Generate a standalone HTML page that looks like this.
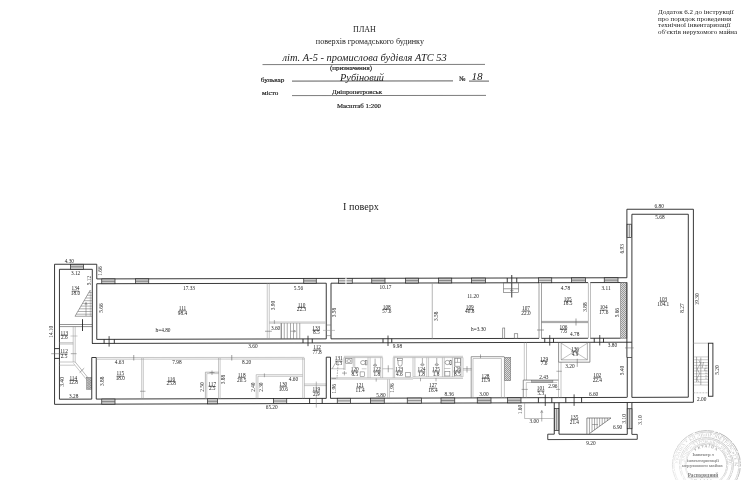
<!DOCTYPE html>
<html><head><meta charset="utf-8"><title>План поверхів</title>
<style>
html,body{margin:0;padding:0;background:#fff;}
body{width:751px;height:480px;overflow:hidden;font-family:"Liberation Serif",serif;}
svg{display:block;font-family:"Liberation Serif",serif;filter:grayscale(1) blur(0.25px);}
</style></head><body>
<svg width="751" height="480" viewBox="0 0 751 480">
<rect width="751" height="480" fill="#ffffff"/>
<g id="header">
<text x="364.50" y="31.80" text-anchor="middle" font-size="8" fill="#222" >ПЛАН</text>
<text x="369.90" y="43.80" text-anchor="middle" font-size="8" fill="#222"  textLength="108.2" lengthAdjust="spacingAndGlyphs">поверхів громадського будинку</text>
<text x="364.60" y="60.60" text-anchor="middle" font-size="11.2" fill="#222" font-style="italic" textLength="164.2" lengthAdjust="spacingAndGlyphs">літ. А-5 - промислова будівля АТС 53</text>
<line x1="262.50" y1="64.60" x2="485.00" y2="64.40" stroke="#444" stroke-width="0.7"/>
<text x="351.00" y="69.70" text-anchor="middle" font-size="6.5" fill="#222" stroke="#222" stroke-width="0.18" textLength="42" lengthAdjust="spacingAndGlyphs">(призначення)</text>
<text x="260.80" y="82.00" text-anchor="start" font-size="6.8" fill="#222" stroke="#222" stroke-width="0.18" textLength="23.6" lengthAdjust="spacingAndGlyphs">бульвар</text>
<text x="362.00" y="80.50" text-anchor="middle" font-size="11.2" fill="#222" font-style="italic" textLength="44" lengthAdjust="spacingAndGlyphs">Рубіновий</text>
<line x1="292.00" y1="81.10" x2="453.00" y2="80.90" stroke="#333" stroke-width="0.8"/>
<text x="459.30" y="81.30" text-anchor="start" font-size="6.6" fill="#222" stroke="#222" stroke-width="0.18">№</text>
<text x="477.00" y="80.00" text-anchor="middle" font-size="11.2" fill="#222" font-style="italic">18</text>
<line x1="469.00" y1="81.10" x2="489.00" y2="81.10" stroke="#333" stroke-width="0.8"/>
<text x="262.00" y="95.00" text-anchor="start" font-size="6.6" fill="#222" stroke="#222" stroke-width="0.18" textLength="16.2" lengthAdjust="spacingAndGlyphs">місто</text>
<text x="357.00" y="93.80" text-anchor="middle" font-size="6.9" fill="#222" stroke="#222" stroke-width="0.18" textLength="50" lengthAdjust="spacingAndGlyphs">Дніпропетровськ</text>
<line x1="292.00" y1="95.60" x2="486.00" y2="95.40" stroke="#444" stroke-width="0.7"/>
<text x="359.00" y="107.60" text-anchor="middle" font-size="6.7" fill="#222" stroke="#222" stroke-width="0.18" textLength="44" lengthAdjust="spacingAndGlyphs">Масштаб 1:200</text>
<text x="361.00" y="209.50" text-anchor="middle" font-size="10" fill="#222"  textLength="35.8" lengthAdjust="spacingAndGlyphs">I поверх</text>
<text x="658.10" y="13.60" text-anchor="start" font-size="6.9" fill="#222"  textLength="75.5" lengthAdjust="spacingAndGlyphs">Додаток 6.2 до інструкції</text>
<text x="658.10" y="20.53" text-anchor="start" font-size="6.9" fill="#222"  textLength="73.2" lengthAdjust="spacingAndGlyphs">про порядок проведення</text>
<text x="658.10" y="27.46" text-anchor="start" font-size="6.9" fill="#222"  textLength="72.4" lengthAdjust="spacingAndGlyphs">технічної інвентаризації</text>
<text x="658.10" y="34.39" text-anchor="start" font-size="6.9" fill="#222"  textLength="79" lengthAdjust="spacingAndGlyphs">об'єктів нерухомого майна</text>
</g>
<g id="plan" stroke-linecap="butt">
<line x1="54.55" y1="264.25" x2="54.55" y2="404.33" stroke="#232323" stroke-width="0.9"/>
<line x1="54.55" y1="264.25" x2="96.75" y2="264.25" stroke="#232323" stroke-width="0.9"/>
<line x1="96.75" y1="264.25" x2="96.75" y2="278.93" stroke="#232323" stroke-width="0.9"/>
<line x1="59.45" y1="269.30" x2="59.45" y2="399.21" stroke="#232323" stroke-width="0.9"/>
<line x1="59.45" y1="269.30" x2="92.30" y2="269.30" stroke="#232323" stroke-width="0.9"/>
<line x1="92.30" y1="269.30" x2="92.30" y2="343.44" stroke="#232323" stroke-width="0.9"/>
<rect x="70.40" y="264.30" width="13.10" height="5.00" fill="#cbcbcb" stroke="#232323" stroke-width="0.7"/>
<line x1="70.40" y1="266.80" x2="83.50" y2="266.80" stroke="#555" stroke-width="0.6"/>
<line x1="59.45" y1="324.50" x2="92.00" y2="324.50" stroke="#3a3a3a" stroke-width="0.55"/>
<line x1="59.45" y1="326.60" x2="92.00" y2="326.60" stroke="#3a3a3a" stroke-width="0.55"/>
<line x1="82.50" y1="319.20" x2="82.50" y2="331.00" stroke="#232323" stroke-width="0.9"/>
<line x1="54.55" y1="348.60" x2="59.45" y2="348.60" stroke="#232323" stroke-width="0.9"/>
<line x1="54.55" y1="358.40" x2="59.45" y2="358.40" stroke="#232323" stroke-width="0.9"/>
<line x1="51.20" y1="353.70" x2="60.70" y2="353.70" stroke="#636363" stroke-width="0.55"/>
<line x1="70.80" y1="353.70" x2="76.60" y2="353.70" stroke="#636363" stroke-width="0.55"/>
<line x1="70.50" y1="336.00" x2="77.50" y2="336.00" stroke="#959595" stroke-width="0.5"/>
<line x1="73.20" y1="326.00" x2="73.20" y2="362.00" stroke="#959595" stroke-width="0.52"/>
<line x1="75.20" y1="326.00" x2="75.20" y2="362.00" stroke="#959595" stroke-width="0.52"/>
<line x1="59.45" y1="342.70" x2="73.20" y2="342.70" stroke="#959595" stroke-width="0.55"/>
<line x1="59.45" y1="344.00" x2="73.20" y2="344.00" stroke="#959595" stroke-width="0.55"/>
<line x1="59.45" y1="362.00" x2="75.20" y2="362.00" stroke="#959595" stroke-width="0.52"/>
<line x1="59.45" y1="365.20" x2="74.50" y2="365.20" stroke="#959595" stroke-width="0.52"/>
<line x1="75.20" y1="362.00" x2="88.80" y2="378.75" stroke="#959595" stroke-width="0.65"/>
<line x1="73.50" y1="363.40" x2="87.20" y2="380.30" stroke="#959595" stroke-width="0.52"/>
<line x1="79.60" y1="372.60" x2="84.20" y2="368.20" stroke="#636363" stroke-width="0.55"/>
<rect x="86.70" y="377.70" width="4.50" height="11.50" fill="#f2f2f2" stroke="#666" stroke-width="0.5"/>
<clipPath id="c26"><rect x="86.7" y="377.7" width="4.5" height="11.5"/></clipPath><g clip-path="url(#c26)">
<line x1="86.70" y1="373.20" x2="91.20" y2="377.70" stroke="#555" stroke-width="0.42"/>
<line x1="86.70" y1="377.70" x2="91.20" y2="373.20" stroke="#555" stroke-width="0.42"/>
<line x1="86.70" y1="374.90" x2="91.20" y2="379.40" stroke="#555" stroke-width="0.42"/>
<line x1="86.70" y1="379.40" x2="91.20" y2="374.90" stroke="#555" stroke-width="0.42"/>
<line x1="86.70" y1="376.60" x2="91.20" y2="381.10" stroke="#555" stroke-width="0.42"/>
<line x1="86.70" y1="381.10" x2="91.20" y2="376.60" stroke="#555" stroke-width="0.42"/>
<line x1="86.70" y1="378.30" x2="91.20" y2="382.80" stroke="#555" stroke-width="0.42"/>
<line x1="86.70" y1="382.80" x2="91.20" y2="378.30" stroke="#555" stroke-width="0.42"/>
<line x1="86.70" y1="380.00" x2="91.20" y2="384.50" stroke="#555" stroke-width="0.42"/>
<line x1="86.70" y1="384.50" x2="91.20" y2="380.00" stroke="#555" stroke-width="0.42"/>
<line x1="86.70" y1="381.70" x2="91.20" y2="386.20" stroke="#555" stroke-width="0.42"/>
<line x1="86.70" y1="386.20" x2="91.20" y2="381.70" stroke="#555" stroke-width="0.42"/>
<line x1="86.70" y1="383.40" x2="91.20" y2="387.90" stroke="#555" stroke-width="0.42"/>
<line x1="86.70" y1="387.90" x2="91.20" y2="383.40" stroke="#555" stroke-width="0.42"/>
<line x1="86.70" y1="385.10" x2="91.20" y2="389.60" stroke="#555" stroke-width="0.42"/>
<line x1="86.70" y1="389.60" x2="91.20" y2="385.10" stroke="#555" stroke-width="0.42"/>
<line x1="86.70" y1="386.80" x2="91.20" y2="391.30" stroke="#555" stroke-width="0.42"/>
<line x1="86.70" y1="391.30" x2="91.20" y2="386.80" stroke="#555" stroke-width="0.42"/>
<line x1="86.70" y1="388.50" x2="91.20" y2="393.00" stroke="#555" stroke-width="0.42"/>
<line x1="86.70" y1="393.00" x2="91.20" y2="388.50" stroke="#555" stroke-width="0.42"/>
</g>
<polyline points="90.30,290.00 75.00,316.25 92.30,316.25" fill="none" stroke="#636363" stroke-width="0.6"/>
<line x1="90.30" y1="290.00" x2="90.30" y2="316.25" stroke="#959595" stroke-width="0.5"/>
<line x1="88.78" y1="292.60" x2="91.80" y2="292.60" stroke="#636363" stroke-width="0.5"/>
<line x1="87.21" y1="295.30" x2="91.80" y2="295.30" stroke="#636363" stroke-width="0.5"/>
<line x1="85.64" y1="298.00" x2="91.80" y2="298.00" stroke="#636363" stroke-width="0.5"/>
<line x1="84.06" y1="300.70" x2="91.80" y2="300.70" stroke="#636363" stroke-width="0.5"/>
<line x1="82.49" y1="303.40" x2="91.80" y2="303.40" stroke="#636363" stroke-width="0.5"/>
<line x1="80.92" y1="306.10" x2="91.80" y2="306.10" stroke="#636363" stroke-width="0.5"/>
<line x1="79.34" y1="308.80" x2="91.80" y2="308.80" stroke="#636363" stroke-width="0.5"/>
<line x1="77.77" y1="311.50" x2="91.80" y2="311.50" stroke="#636363" stroke-width="0.5"/>
<line x1="76.19" y1="314.20" x2="91.80" y2="314.20" stroke="#636363" stroke-width="0.5"/>
<line x1="86.00" y1="302.50" x2="86.00" y2="316.00" stroke="#636363" stroke-width="0.5"/>
<line x1="85.00" y1="305.00" x2="86.00" y2="302.50" stroke="#636363" stroke-width="0.45"/>
<line x1="87.00" y1="305.00" x2="86.00" y2="302.50" stroke="#636363" stroke-width="0.45"/>
<line x1="96.75" y1="278.93" x2="626.90" y2="277.73" stroke="#232323" stroke-width="0.9"/>
<line x1="96.75" y1="283.73" x2="326.25" y2="283.21" stroke="#232323" stroke-width="0.9"/>
<line x1="331.00" y1="283.20" x2="539.00" y2="282.73" stroke="#232323" stroke-width="0.9"/>
<line x1="541.50" y1="282.72" x2="588.00" y2="282.62" stroke="#232323" stroke-width="0.9"/>
<line x1="590.25" y1="282.61" x2="626.90" y2="282.53" stroke="#232323" stroke-width="0.9"/>
<rect x="101.75" y="278.91" width="13.25" height="4.80" fill="#cbcbcb" stroke="#232323" stroke-width="0.7"/>
<line x1="101.75" y1="281.31" x2="115.00" y2="281.31" stroke="#555" stroke-width="0.6"/>
<rect x="135.50" y="278.83" width="13.25" height="4.80" fill="#cbcbcb" stroke="#232323" stroke-width="0.7"/>
<line x1="135.50" y1="281.23" x2="148.75" y2="281.23" stroke="#555" stroke-width="0.6"/>
<rect x="303.75" y="278.45" width="12.50" height="4.80" fill="#cbcbcb" stroke="#232323" stroke-width="0.7"/>
<line x1="303.75" y1="280.85" x2="316.25" y2="280.85" stroke="#555" stroke-width="0.6"/>
<rect x="338.50" y="278.37" width="13.75" height="4.80" fill="#e2e2e2" stroke="#232323" stroke-width="0.7"/>
<line x1="338.50" y1="280.77" x2="352.25" y2="280.77" stroke="#555" stroke-width="0.6"/>
<rect x="371.75" y="278.29" width="13.25" height="4.80" fill="#cbcbcb" stroke="#232323" stroke-width="0.7"/>
<line x1="371.75" y1="280.69" x2="385.00" y2="280.69" stroke="#555" stroke-width="0.6"/>
<rect x="405.50" y="278.22" width="13.00" height="4.80" fill="#cbcbcb" stroke="#232323" stroke-width="0.7"/>
<line x1="405.50" y1="280.62" x2="418.50" y2="280.62" stroke="#555" stroke-width="0.6"/>
<rect x="438.50" y="278.14" width="13.25" height="4.80" fill="#cbcbcb" stroke="#232323" stroke-width="0.7"/>
<line x1="438.50" y1="280.54" x2="451.75" y2="280.54" stroke="#555" stroke-width="0.6"/>
<rect x="471.50" y="278.07" width="14.00" height="4.80" fill="#cbcbcb" stroke="#232323" stroke-width="0.7"/>
<line x1="471.50" y1="280.47" x2="485.50" y2="280.47" stroke="#555" stroke-width="0.6"/>
<rect x="538.50" y="277.91" width="13.25" height="4.80" fill="#dcdcdc" stroke="#232323" stroke-width="0.7"/>
<line x1="538.50" y1="280.31" x2="551.75" y2="280.31" stroke="#555" stroke-width="0.6"/>
<rect x="571.50" y="277.84" width="14.00" height="4.80" fill="#cbcbcb" stroke="#232323" stroke-width="0.7"/>
<line x1="571.50" y1="280.24" x2="585.50" y2="280.24" stroke="#555" stroke-width="0.6"/>
<rect x="604.25" y="277.76" width="13.75" height="4.80" fill="#cbcbcb" stroke="#232323" stroke-width="0.7"/>
<line x1="604.25" y1="280.16" x2="618.00" y2="280.16" stroke="#555" stroke-width="0.6"/>
<rect x="345.4" y="277.6" width="1.1" height="6.6" fill="#fff"/>
<line x1="507.25" y1="278.00" x2="507.25" y2="282.80" stroke="#232323" stroke-width="0.9"/>
<line x1="516.75" y1="277.98" x2="516.75" y2="282.78" stroke="#232323" stroke-width="0.9"/>
<line x1="511.75" y1="275.00" x2="511.75" y2="297.50" stroke="#232323" stroke-width="0.9"/>
<rect x="503.50" y="282.79" width="15.00" height="9.71" fill="none" stroke="#636363" stroke-width="0.6"/>
<line x1="503.50" y1="288.75" x2="518.50" y2="288.75" stroke="#636363" stroke-width="0.6"/>
<line x1="510.00" y1="290.60" x2="513.50" y2="290.60" stroke="#636363" stroke-width="0.5"/>
<line x1="96.75" y1="283.73" x2="96.75" y2="339.38" stroke="#232323" stroke-width="0.9"/>
<line x1="96.75" y1="339.38" x2="326.25" y2="338.86" stroke="#232323" stroke-width="0.9"/>
<line x1="267.25" y1="283.35" x2="267.25" y2="339.00" stroke="#959595" stroke-width="0.52"/>
<line x1="269.25" y1="283.34" x2="269.25" y2="338.99" stroke="#959595" stroke-width="0.52"/>
<line x1="326.25" y1="283.21" x2="326.25" y2="338.86" stroke="#232323" stroke-width="0.9"/>
<line x1="331.00" y1="283.20" x2="331.00" y2="338.85" stroke="#232323" stroke-width="0.9"/>
<line x1="269.25" y1="322.00" x2="325.50" y2="322.00" stroke="#959595" stroke-width="0.52"/>
<line x1="269.25" y1="323.20" x2="325.50" y2="323.20" stroke="#959595" stroke-width="0.52"/>
<line x1="281.25" y1="323.20" x2="281.25" y2="338.96" stroke="#636363" stroke-width="0.55"/>
<line x1="284.25" y1="323.20" x2="284.25" y2="338.96" stroke="#636363" stroke-width="0.55"/>
<line x1="287.25" y1="323.20" x2="287.25" y2="338.95" stroke="#636363" stroke-width="0.55"/>
<line x1="290.50" y1="323.20" x2="290.50" y2="338.94" stroke="#636363" stroke-width="0.55"/>
<line x1="293.50" y1="323.20" x2="293.50" y2="338.94" stroke="#636363" stroke-width="0.55"/>
<line x1="296.75" y1="323.20" x2="296.75" y2="338.93" stroke="#636363" stroke-width="0.55"/>
<line x1="299.75" y1="323.20" x2="299.75" y2="338.92" stroke="#636363" stroke-width="0.55"/>
<line x1="281.25" y1="323.20" x2="281.25" y2="338.96" stroke="#636363" stroke-width="0.6"/>
<line x1="290.50" y1="331.20" x2="295.50" y2="331.20" stroke="#636363" stroke-width="0.5"/>
<line x1="294.00" y1="330.20" x2="295.50" y2="331.20" stroke="#636363" stroke-width="0.5"/>
<line x1="294.00" y1="332.20" x2="295.50" y2="331.20" stroke="#636363" stroke-width="0.5"/>
<line x1="265.00" y1="331.25" x2="271.90" y2="331.25" stroke="#636363" stroke-width="0.55"/>
<line x1="274.40" y1="320.00" x2="274.40" y2="323.80" stroke="#636363" stroke-width="0.5"/>
<line x1="323.00" y1="330.40" x2="335.00" y2="330.40" stroke="#959595" stroke-width="0.52"/>
<line x1="326.25" y1="325.00" x2="331.00" y2="325.00" stroke="#636363" stroke-width="0.5"/>
<line x1="326.25" y1="335.60" x2="331.00" y2="335.60" stroke="#636363" stroke-width="0.5"/>
<line x1="331.00" y1="338.85" x2="539.00" y2="338.38" stroke="#232323" stroke-width="0.9"/>
<line x1="432.25" y1="282.97" x2="432.25" y2="338.62" stroke="#959595" stroke-width="0.7"/>
<line x1="539.00" y1="282.73" x2="539.00" y2="338.38" stroke="#636363" stroke-width="0.6"/>
<line x1="541.50" y1="282.72" x2="541.50" y2="338.37" stroke="#636363" stroke-width="0.6"/>
<rect x="502.75" y="328.00" width="2.00" height="10.46" fill="none" stroke="#636363" stroke-width="0.6"/>
<rect x="514.25" y="333.75" width="3.50" height="4.68" fill="none" stroke="#636363" stroke-width="0.6"/>
<line x1="537.00" y1="330.00" x2="544.00" y2="330.00" stroke="#636363" stroke-width="0.6"/>
<line x1="541.50" y1="338.37" x2="588.00" y2="338.27" stroke="#232323" stroke-width="0.9"/>
<line x1="590.25" y1="338.26" x2="620.50" y2="338.19" stroke="#232323" stroke-width="0.9"/>
<line x1="541.50" y1="321.40" x2="588.00" y2="321.40" stroke="#636363" stroke-width="0.6"/>
<line x1="541.50" y1="322.60" x2="588.00" y2="322.60" stroke="#636363" stroke-width="0.6"/>
<line x1="576.00" y1="318.50" x2="576.00" y2="325.50" stroke="#636363" stroke-width="0.6"/>
<line x1="588.40" y1="282.62" x2="588.40" y2="338.27" stroke="#8a8a8a" stroke-width="0.55"/>
<line x1="590.50" y1="282.61" x2="590.50" y2="338.26" stroke="#8a8a8a" stroke-width="0.55"/>
<rect x="620.50" y="282.54" width="6.40" height="55.65" fill="#f2f2f2" stroke="#666" stroke-width="0.5"/>
<clipPath id="c135"><rect x="620.5" y="282.53704000000005" width="6.399999999999977" height="55.64999999999998"/></clipPath><g clip-path="url(#c135)">
<line x1="620.50" y1="276.14" x2="626.90" y2="282.54" stroke="#555" stroke-width="0.42"/>
<line x1="620.50" y1="282.54" x2="626.90" y2="276.14" stroke="#555" stroke-width="0.42"/>
<line x1="620.50" y1="278.14" x2="626.90" y2="284.54" stroke="#555" stroke-width="0.42"/>
<line x1="620.50" y1="284.54" x2="626.90" y2="278.14" stroke="#555" stroke-width="0.42"/>
<line x1="620.50" y1="280.14" x2="626.90" y2="286.54" stroke="#555" stroke-width="0.42"/>
<line x1="620.50" y1="286.54" x2="626.90" y2="280.14" stroke="#555" stroke-width="0.42"/>
<line x1="620.50" y1="282.14" x2="626.90" y2="288.54" stroke="#555" stroke-width="0.42"/>
<line x1="620.50" y1="288.54" x2="626.90" y2="282.14" stroke="#555" stroke-width="0.42"/>
<line x1="620.50" y1="284.14" x2="626.90" y2="290.54" stroke="#555" stroke-width="0.42"/>
<line x1="620.50" y1="290.54" x2="626.90" y2="284.14" stroke="#555" stroke-width="0.42"/>
<line x1="620.50" y1="286.14" x2="626.90" y2="292.54" stroke="#555" stroke-width="0.42"/>
<line x1="620.50" y1="292.54" x2="626.90" y2="286.14" stroke="#555" stroke-width="0.42"/>
<line x1="620.50" y1="288.14" x2="626.90" y2="294.54" stroke="#555" stroke-width="0.42"/>
<line x1="620.50" y1="294.54" x2="626.90" y2="288.14" stroke="#555" stroke-width="0.42"/>
<line x1="620.50" y1="290.14" x2="626.90" y2="296.54" stroke="#555" stroke-width="0.42"/>
<line x1="620.50" y1="296.54" x2="626.90" y2="290.14" stroke="#555" stroke-width="0.42"/>
<line x1="620.50" y1="292.14" x2="626.90" y2="298.54" stroke="#555" stroke-width="0.42"/>
<line x1="620.50" y1="298.54" x2="626.90" y2="292.14" stroke="#555" stroke-width="0.42"/>
<line x1="620.50" y1="294.14" x2="626.90" y2="300.54" stroke="#555" stroke-width="0.42"/>
<line x1="620.50" y1="300.54" x2="626.90" y2="294.14" stroke="#555" stroke-width="0.42"/>
<line x1="620.50" y1="296.14" x2="626.90" y2="302.54" stroke="#555" stroke-width="0.42"/>
<line x1="620.50" y1="302.54" x2="626.90" y2="296.14" stroke="#555" stroke-width="0.42"/>
<line x1="620.50" y1="298.14" x2="626.90" y2="304.54" stroke="#555" stroke-width="0.42"/>
<line x1="620.50" y1="304.54" x2="626.90" y2="298.14" stroke="#555" stroke-width="0.42"/>
<line x1="620.50" y1="300.14" x2="626.90" y2="306.54" stroke="#555" stroke-width="0.42"/>
<line x1="620.50" y1="306.54" x2="626.90" y2="300.14" stroke="#555" stroke-width="0.42"/>
<line x1="620.50" y1="302.14" x2="626.90" y2="308.54" stroke="#555" stroke-width="0.42"/>
<line x1="620.50" y1="308.54" x2="626.90" y2="302.14" stroke="#555" stroke-width="0.42"/>
<line x1="620.50" y1="304.14" x2="626.90" y2="310.54" stroke="#555" stroke-width="0.42"/>
<line x1="620.50" y1="310.54" x2="626.90" y2="304.14" stroke="#555" stroke-width="0.42"/>
<line x1="620.50" y1="306.14" x2="626.90" y2="312.54" stroke="#555" stroke-width="0.42"/>
<line x1="620.50" y1="312.54" x2="626.90" y2="306.14" stroke="#555" stroke-width="0.42"/>
<line x1="620.50" y1="308.14" x2="626.90" y2="314.54" stroke="#555" stroke-width="0.42"/>
<line x1="620.50" y1="314.54" x2="626.90" y2="308.14" stroke="#555" stroke-width="0.42"/>
<line x1="620.50" y1="310.14" x2="626.90" y2="316.54" stroke="#555" stroke-width="0.42"/>
<line x1="620.50" y1="316.54" x2="626.90" y2="310.14" stroke="#555" stroke-width="0.42"/>
<line x1="620.50" y1="312.14" x2="626.90" y2="318.54" stroke="#555" stroke-width="0.42"/>
<line x1="620.50" y1="318.54" x2="626.90" y2="312.14" stroke="#555" stroke-width="0.42"/>
<line x1="620.50" y1="314.14" x2="626.90" y2="320.54" stroke="#555" stroke-width="0.42"/>
<line x1="620.50" y1="320.54" x2="626.90" y2="314.14" stroke="#555" stroke-width="0.42"/>
<line x1="620.50" y1="316.14" x2="626.90" y2="322.54" stroke="#555" stroke-width="0.42"/>
<line x1="620.50" y1="322.54" x2="626.90" y2="316.14" stroke="#555" stroke-width="0.42"/>
<line x1="620.50" y1="318.14" x2="626.90" y2="324.54" stroke="#555" stroke-width="0.42"/>
<line x1="620.50" y1="324.54" x2="626.90" y2="318.14" stroke="#555" stroke-width="0.42"/>
<line x1="620.50" y1="320.14" x2="626.90" y2="326.54" stroke="#555" stroke-width="0.42"/>
<line x1="620.50" y1="326.54" x2="626.90" y2="320.14" stroke="#555" stroke-width="0.42"/>
<line x1="620.50" y1="322.14" x2="626.90" y2="328.54" stroke="#555" stroke-width="0.42"/>
<line x1="620.50" y1="328.54" x2="626.90" y2="322.14" stroke="#555" stroke-width="0.42"/>
<line x1="620.50" y1="324.14" x2="626.90" y2="330.54" stroke="#555" stroke-width="0.42"/>
<line x1="620.50" y1="330.54" x2="626.90" y2="324.14" stroke="#555" stroke-width="0.42"/>
<line x1="620.50" y1="326.14" x2="626.90" y2="332.54" stroke="#555" stroke-width="0.42"/>
<line x1="620.50" y1="332.54" x2="626.90" y2="326.14" stroke="#555" stroke-width="0.42"/>
<line x1="620.50" y1="328.14" x2="626.90" y2="334.54" stroke="#555" stroke-width="0.42"/>
<line x1="620.50" y1="334.54" x2="626.90" y2="328.14" stroke="#555" stroke-width="0.42"/>
<line x1="620.50" y1="330.14" x2="626.90" y2="336.54" stroke="#555" stroke-width="0.42"/>
<line x1="620.50" y1="336.54" x2="626.90" y2="330.14" stroke="#555" stroke-width="0.42"/>
<line x1="620.50" y1="332.14" x2="626.90" y2="338.54" stroke="#555" stroke-width="0.42"/>
<line x1="620.50" y1="338.54" x2="626.90" y2="332.14" stroke="#555" stroke-width="0.42"/>
<line x1="620.50" y1="334.14" x2="626.90" y2="340.54" stroke="#555" stroke-width="0.42"/>
<line x1="620.50" y1="340.54" x2="626.90" y2="334.14" stroke="#555" stroke-width="0.42"/>
<line x1="620.50" y1="336.14" x2="626.90" y2="342.54" stroke="#555" stroke-width="0.42"/>
<line x1="620.50" y1="342.54" x2="626.90" y2="336.14" stroke="#555" stroke-width="0.42"/>
<line x1="620.50" y1="338.14" x2="626.90" y2="344.54" stroke="#555" stroke-width="0.42"/>
<line x1="620.50" y1="344.54" x2="626.90" y2="338.14" stroke="#555" stroke-width="0.42"/>
</g>
<line x1="92.00" y1="343.44" x2="631.90" y2="342.22" stroke="#232323" stroke-width="0.9"/>
<line x1="104.10" y1="339.36" x2="104.10" y2="343.41" stroke="#232323" stroke-width="0.9"/>
<line x1="114.30" y1="339.34" x2="114.30" y2="343.39" stroke="#232323" stroke-width="0.9"/>
<line x1="109.10" y1="336.15" x2="109.10" y2="346.60" stroke="#232323" stroke-width="0.8"/>
<line x1="303.00" y1="338.91" x2="303.00" y2="342.96" stroke="#232323" stroke-width="0.9"/>
<line x1="312.25" y1="338.89" x2="312.25" y2="342.94" stroke="#232323" stroke-width="0.9"/>
<line x1="308.00" y1="335.70" x2="308.00" y2="346.15" stroke="#232323" stroke-width="0.8"/>
<line x1="383.00" y1="338.73" x2="383.00" y2="342.78" stroke="#232323" stroke-width="0.9"/>
<line x1="391.75" y1="338.71" x2="391.75" y2="342.76" stroke="#232323" stroke-width="0.9"/>
<line x1="388.00" y1="335.52" x2="388.00" y2="345.97" stroke="#232323" stroke-width="0.8"/>
<line x1="544.75" y1="338.36" x2="544.75" y2="342.41" stroke="#232323" stroke-width="0.9"/>
<line x1="553.50" y1="338.34" x2="553.50" y2="342.39" stroke="#232323" stroke-width="0.9"/>
<line x1="549.75" y1="335.15" x2="549.75" y2="345.60" stroke="#232323" stroke-width="0.8"/>
<line x1="594.25" y1="338.25" x2="594.25" y2="342.30" stroke="#232323" stroke-width="0.9"/>
<line x1="603.50" y1="338.23" x2="603.50" y2="342.28" stroke="#232323" stroke-width="0.9"/>
<line x1="599.75" y1="335.04" x2="599.75" y2="345.49" stroke="#232323" stroke-width="0.8"/>
<line x1="54.55" y1="404.33" x2="631.90" y2="402.48" stroke="#232323" stroke-width="0.9"/>
<line x1="59.45" y1="399.21" x2="91.75" y2="399.11" stroke="#232323" stroke-width="0.9"/>
<line x1="96.25" y1="399.09" x2="326.25" y2="398.36" stroke="#232323" stroke-width="0.9"/>
<line x1="330.50" y1="398.34" x2="626.90" y2="397.39" stroke="#232323" stroke-width="0.9"/>
<rect x="101.75" y="399.05" width="13.25" height="5.10" fill="#cbcbcb" stroke="#232323" stroke-width="0.7"/>
<line x1="101.75" y1="401.60" x2="115.00" y2="401.60" stroke="#555" stroke-width="0.6"/>
<rect x="207.50" y="398.72" width="10.00" height="5.10" fill="#cbcbcb" stroke="#232323" stroke-width="0.7"/>
<line x1="207.50" y1="401.27" x2="217.50" y2="401.27" stroke="#555" stroke-width="0.6"/>
<rect x="273.40" y="398.50" width="13.35" height="5.10" fill="#d4d4d4" stroke="#232323" stroke-width="0.7"/>
<line x1="273.40" y1="401.05" x2="286.75" y2="401.05" stroke="#555" stroke-width="0.6"/>
<rect x="337.25" y="398.30" width="13.25" height="5.10" fill="#dedede" stroke="#232323" stroke-width="0.7"/>
<line x1="337.25" y1="400.85" x2="350.50" y2="400.85" stroke="#555" stroke-width="0.6"/>
<rect x="370.50" y="398.19" width="13.75" height="5.10" fill="#cbcbcb" stroke="#232323" stroke-width="0.7"/>
<line x1="370.50" y1="400.74" x2="384.25" y2="400.74" stroke="#555" stroke-width="0.6"/>
<rect x="407.25" y="398.07" width="14.25" height="5.10" fill="#dedede" stroke="#232323" stroke-width="0.7"/>
<line x1="407.25" y1="400.62" x2="421.50" y2="400.62" stroke="#555" stroke-width="0.6"/>
<rect x="441.00" y="397.97" width="13.75" height="5.10" fill="#cbcbcb" stroke="#232323" stroke-width="0.7"/>
<line x1="441.00" y1="400.52" x2="454.75" y2="400.52" stroke="#555" stroke-width="0.6"/>
<rect x="477.25" y="397.85" width="13.75" height="5.10" fill="#cbcbcb" stroke="#232323" stroke-width="0.7"/>
<line x1="477.25" y1="400.40" x2="491.00" y2="400.40" stroke="#555" stroke-width="0.6"/>
<rect x="507.60" y="397.75" width="13.40" height="5.10" fill="#cbcbcb" stroke="#232323" stroke-width="0.7"/>
<line x1="507.60" y1="400.30" x2="521.00" y2="400.30" stroke="#555" stroke-width="0.6"/>
<line x1="309.60" y1="398.41" x2="309.60" y2="403.51" stroke="#232323" stroke-width="0.9"/>
<line x1="322.20" y1="398.37" x2="322.20" y2="403.47" stroke="#232323" stroke-width="0.9"/>
<line x1="316.30" y1="381.60" x2="316.30" y2="407.60" stroke="#777" stroke-width="0.5"/>
<line x1="538.40" y1="397.68" x2="538.40" y2="402.78" stroke="#232323" stroke-width="0.9"/>
<line x1="551.80" y1="397.63" x2="551.80" y2="402.73" stroke="#232323" stroke-width="0.9"/>
<line x1="545.25" y1="394.46" x2="545.25" y2="405.96" stroke="#232323" stroke-width="0.8"/>
<line x1="565.80" y1="397.59" x2="565.80" y2="402.69" stroke="#232323" stroke-width="0.9"/>
<line x1="581.60" y1="397.54" x2="581.60" y2="402.64" stroke="#232323" stroke-width="0.9"/>
<line x1="574.10" y1="394.36" x2="574.10" y2="405.86" stroke="#232323" stroke-width="0.8"/>
<line x1="91.75" y1="357.50" x2="91.75" y2="399.11" stroke="#232323" stroke-width="0.9"/>
<line x1="96.25" y1="357.50" x2="96.25" y2="399.09" stroke="#232323" stroke-width="0.9"/>
<line x1="91.75" y1="357.50" x2="96.25" y2="357.50" stroke="#232323" stroke-width="0.9"/>
<line x1="96.25" y1="357.50" x2="304.30" y2="357.40" stroke="#8e8e8e" stroke-width="0.5"/>
<line x1="96.25" y1="359.20" x2="304.30" y2="359.00" stroke="#8e8e8e" stroke-width="0.5"/>
<line x1="133.75" y1="355.00" x2="133.75" y2="360.50" stroke="#636363" stroke-width="0.6"/>
<line x1="231.75" y1="355.00" x2="231.75" y2="360.50" stroke="#636363" stroke-width="0.6"/>
<line x1="141.70" y1="358.00" x2="141.70" y2="398.95" stroke="#959595" stroke-width="0.52"/>
<line x1="143.30" y1="358.00" x2="143.30" y2="398.94" stroke="#959595" stroke-width="0.52"/>
<line x1="140.00" y1="391.25" x2="145.50" y2="391.25" stroke="#636363" stroke-width="0.5"/>
<line x1="218.50" y1="358.00" x2="218.50" y2="398.70" stroke="#959595" stroke-width="0.52"/>
<line x1="220.10" y1="358.00" x2="220.10" y2="398.70" stroke="#959595" stroke-width="0.52"/>
<polyline points="205.40,398.74 205.40,372.20 219.00,372.20" fill="none" stroke="#8a8a8a" stroke-width="0.6"/>
<polyline points="206.80,398.74 206.80,373.60 219.00,373.60" fill="none" stroke="#959595" stroke-width="0.5"/>
<line x1="209.50" y1="372.50" x2="214.50" y2="372.50" stroke="#636363" stroke-width="0.5"/>
<line x1="212.00" y1="370.50" x2="212.00" y2="375.00" stroke="#636363" stroke-width="0.5"/>
<line x1="302.60" y1="358.00" x2="302.60" y2="398.43" stroke="#a6a6a6" stroke-width="0.5"/>
<line x1="304.30" y1="358.00" x2="304.30" y2="398.43" stroke="#858585" stroke-width="0.5"/>
<polyline points="256.20,398.58 256.20,374.70 302.60,374.70" fill="none" stroke="#8e8e8e" stroke-width="0.5"/>
<polyline points="257.90,398.58 257.90,376.30 302.60,376.30" fill="none" stroke="#8e8e8e" stroke-width="0.5"/>
<line x1="264.40" y1="373.40" x2="264.40" y2="377.20" stroke="#636363" stroke-width="0.5"/>
<line x1="304.30" y1="384.00" x2="326.25" y2="384.00" stroke="#8e8e8e" stroke-width="0.5"/>
<line x1="304.30" y1="385.60" x2="326.25" y2="385.60" stroke="#8e8e8e" stroke-width="0.5"/>
<line x1="326.25" y1="357.20" x2="326.25" y2="398.36" stroke="#232323" stroke-width="0.9"/>
<line x1="330.50" y1="357.20" x2="330.50" y2="398.34" stroke="#232323" stroke-width="0.9"/>
<line x1="326.25" y1="357.20" x2="330.50" y2="357.20" stroke="#232323" stroke-width="0.9"/>
<line x1="343.90" y1="356.30" x2="382.60" y2="356.30" stroke="#959595" stroke-width="0.52"/>
<line x1="343.90" y1="357.60" x2="382.60" y2="357.60" stroke="#959595" stroke-width="0.52"/>
<line x1="393.25" y1="356.30" x2="463.00" y2="356.30" stroke="#959595" stroke-width="0.52"/>
<line x1="393.25" y1="357.60" x2="463.00" y2="357.60" stroke="#959595" stroke-width="0.52"/>
<line x1="330.75" y1="377.80" x2="413.00" y2="377.80" stroke="#959595" stroke-width="0.52"/>
<line x1="330.75" y1="379.10" x2="413.00" y2="379.10" stroke="#959595" stroke-width="0.52"/>
<line x1="343.90" y1="357.60" x2="343.90" y2="370.00" stroke="#959595" stroke-width="0.52"/>
<line x1="345.10" y1="357.60" x2="345.10" y2="370.00" stroke="#959595" stroke-width="0.52"/>
<line x1="331.00" y1="368.75" x2="344.50" y2="368.75" stroke="#959595" stroke-width="0.52"/>
<line x1="338.2" y1="362" x2="337" y2="378.5" stroke="#636363" stroke-width="0.5" stroke-dasharray="1.6 1"/>
<line x1="342.00" y1="373.10" x2="347.00" y2="373.10" stroke="#636363" stroke-width="0.5"/>
<line x1="344.40" y1="371.00" x2="344.40" y2="375.40" stroke="#636363" stroke-width="0.5"/>
<line x1="336.50" y1="361.40" x2="332.00" y2="368.90" stroke="#636363" stroke-width="0.5"/>
<line x1="331.50" y1="378.50" x2="336.00" y2="378.50" stroke="#636363" stroke-width="0.5"/>
<rect x="345.75" y="358.30" width="6.25" height="4.90" fill="none" stroke="#636363" stroke-width="0.55"/>
<ellipse cx="348.88" cy="361.05" rx="2.02" ry="1.45" fill="none" stroke="#636363" stroke-width="0.5"/>
<line x1="353.25" y1="357.60" x2="353.25" y2="366.90" stroke="#959595" stroke-width="0.52"/>
<line x1="354.75" y1="357.60" x2="354.75" y2="366.90" stroke="#959595" stroke-width="0.52"/>
<ellipse cx="363.00" cy="362.60" rx="2.4" ry="2.1" fill="none" stroke="#636363" stroke-width="0.55"/>
<rect x="365.50" y="360.30" width="1.50" height="4.60" fill="none" stroke="#636363" stroke-width="0.5"/>
<rect x="360.10" y="371.90" width="4.40" height="4.35" fill="none" stroke="#636363" stroke-width="0.5"/>
<line x1="361.80" y1="368.80" x2="366.50" y2="368.80" stroke="#959595" stroke-width="0.5"/>
<line x1="368.00" y1="357.60" x2="368.00" y2="377.80" stroke="#959595" stroke-width="0.52"/>
<line x1="370.10" y1="357.60" x2="370.10" y2="377.80" stroke="#959595" stroke-width="0.52"/>
<line x1="375.10" y1="358.60" x2="375.10" y2="363.80" stroke="#636363" stroke-width="0.5"/>
<path d="M373.20,365.30 L375.10,363.80 L377.00,365.30 L375.10,366.50 Z" fill="#bbb" stroke="#636363" stroke-width="0.45"/>
<line x1="380.75" y1="357.60" x2="380.75" y2="377.80" stroke="#959595" stroke-width="0.52"/>
<line x1="382.60" y1="357.60" x2="382.60" y2="377.80" stroke="#959595" stroke-width="0.52"/>
<line x1="376.20" y1="378.40" x2="376.20" y2="381.60" stroke="#636363" stroke-width="0.5"/>
<line x1="382.60" y1="368.75" x2="393.25" y2="368.75" stroke="#959595" stroke-width="0.52"/>
<line x1="388.25" y1="365.30" x2="388.25" y2="372.30" stroke="#636363" stroke-width="0.55"/>
<line x1="393.25" y1="357.60" x2="393.25" y2="377.80" stroke="#959595" stroke-width="0.52"/>
<line x1="394.60" y1="357.60" x2="394.60" y2="377.80" stroke="#959595" stroke-width="0.52"/>
<rect x="397.50" y="358.60" width="5.20" height="1.80" fill="none" stroke="#636363" stroke-width="0.5"/>
<path d="M398.00,360.40 L398.00,363.60 A2.1,2.6 0 0 0 402.20,363.60 L402.20,360.40" fill="none" stroke="#636363" stroke-width="0.55"/>
<rect x="405.75" y="372.25" width="4.45" height="4.65" fill="none" stroke="#636363" stroke-width="0.5"/>
<line x1="387.60" y1="379.40" x2="387.60" y2="398.16" stroke="#959595" stroke-width="0.52"/>
<line x1="389.40" y1="379.40" x2="389.40" y2="398.16" stroke="#959595" stroke-width="0.52"/>
<line x1="413.00" y1="376.90" x2="463.00" y2="376.90" stroke="#959595" stroke-width="0.52"/>
<line x1="413.00" y1="378.40" x2="463.00" y2="378.40" stroke="#959595" stroke-width="0.52"/>
<line x1="413.00" y1="357.60" x2="413.00" y2="376.90" stroke="#959595" stroke-width="0.52"/>
<line x1="414.90" y1="357.60" x2="414.90" y2="376.90" stroke="#959595" stroke-width="0.52"/>
<line x1="426.75" y1="357.60" x2="426.75" y2="376.90" stroke="#959595" stroke-width="0.52"/>
<line x1="428.60" y1="357.60" x2="428.60" y2="376.90" stroke="#959595" stroke-width="0.52"/>
<line x1="442.40" y1="357.60" x2="442.40" y2="376.90" stroke="#959595" stroke-width="0.52"/>
<line x1="444.25" y1="357.60" x2="444.25" y2="376.90" stroke="#959595" stroke-width="0.52"/>
<line x1="452.40" y1="357.60" x2="452.40" y2="376.90" stroke="#959595" stroke-width="0.52"/>
<line x1="454.40" y1="357.60" x2="454.40" y2="376.90" stroke="#959595" stroke-width="0.52"/>
<line x1="461.10" y1="357.60" x2="461.10" y2="376.90" stroke="#959595" stroke-width="0.52"/>
<line x1="463.00" y1="357.60" x2="463.00" y2="376.90" stroke="#959595" stroke-width="0.52"/>
<line x1="422.40" y1="358.00" x2="422.40" y2="363.20" stroke="#636363" stroke-width="0.5"/>
<path d="M420.50,364.70 L422.40,363.20 L424.30,364.70 L422.40,365.90 Z" fill="#bbb" stroke="#636363" stroke-width="0.45"/>
<line x1="436.75" y1="358.00" x2="436.75" y2="363.20" stroke="#636363" stroke-width="0.5"/>
<path d="M434.85,364.70 L436.75,363.20 L438.65,364.70 L436.75,365.90 Z" fill="#bbb" stroke="#636363" stroke-width="0.45"/>
<line x1="420.50" y1="378.00" x2="420.50" y2="381.30" stroke="#636363" stroke-width="0.5"/>
<line x1="436.00" y1="378.00" x2="436.00" y2="381.30" stroke="#636363" stroke-width="0.5"/>
<ellipse cx="447.40" cy="362.50" rx="2.4" ry="2.1" fill="none" stroke="#636363" stroke-width="0.55"/>
<rect x="449.90" y="360.20" width="1.50" height="4.60" fill="none" stroke="#636363" stroke-width="0.5"/>
<line x1="444.25" y1="368.50" x2="450.50" y2="368.50" stroke="#959595" stroke-width="0.5"/>
<rect x="444.90" y="371.50" width="5.00" height="4.50" fill="none" stroke="#636363" stroke-width="0.5"/>
<rect x="454.90" y="358.20" width="5.60" height="8.00" fill="none" stroke="#636363" stroke-width="0.55"/>
<line x1="457.50" y1="358.20" x2="457.50" y2="362.40" stroke="#636363" stroke-width="0.45"/>
<line x1="454.90" y1="362.40" x2="460.50" y2="362.40" stroke="#636363" stroke-width="0.45"/>
<line x1="463.00" y1="368.50" x2="471.50" y2="368.50" stroke="#959595" stroke-width="0.55"/>
<line x1="463.00" y1="370.00" x2="471.50" y2="370.00" stroke="#959595" stroke-width="0.55"/>
<line x1="467.00" y1="366.20" x2="467.00" y2="372.50" stroke="#636363" stroke-width="0.55"/>
<polyline points="471.20,397.89 471.20,356.70 504.40,356.70" fill="none" stroke="#636363" stroke-width="0.65"/>
<polyline points="473.00,397.89 473.00,358.50 501.40,358.50" fill="none" stroke="#959595" stroke-width="0.52"/>
<line x1="501.40" y1="358.50" x2="501.40" y2="397.79" stroke="#959595" stroke-width="0.52"/>
<line x1="504.40" y1="358.50" x2="504.40" y2="397.79" stroke="#959595" stroke-width="0.52"/>
<rect x="504.40" y="357.50" width="6.35" height="23.10" fill="#f2f2f2" stroke="#666" stroke-width="0.5"/>
<clipPath id="c345"><rect x="504.4" y="357.5" width="6.350000000000023" height="23.100000000000023"/></clipPath><g clip-path="url(#c345)">
<line x1="504.40" y1="351.15" x2="510.75" y2="357.50" stroke="#555" stroke-width="0.42"/>
<line x1="504.40" y1="357.50" x2="510.75" y2="351.15" stroke="#555" stroke-width="0.42"/>
<line x1="504.40" y1="353.15" x2="510.75" y2="359.50" stroke="#555" stroke-width="0.42"/>
<line x1="504.40" y1="359.50" x2="510.75" y2="353.15" stroke="#555" stroke-width="0.42"/>
<line x1="504.40" y1="355.15" x2="510.75" y2="361.50" stroke="#555" stroke-width="0.42"/>
<line x1="504.40" y1="361.50" x2="510.75" y2="355.15" stroke="#555" stroke-width="0.42"/>
<line x1="504.40" y1="357.15" x2="510.75" y2="363.50" stroke="#555" stroke-width="0.42"/>
<line x1="504.40" y1="363.50" x2="510.75" y2="357.15" stroke="#555" stroke-width="0.42"/>
<line x1="504.40" y1="359.15" x2="510.75" y2="365.50" stroke="#555" stroke-width="0.42"/>
<line x1="504.40" y1="365.50" x2="510.75" y2="359.15" stroke="#555" stroke-width="0.42"/>
<line x1="504.40" y1="361.15" x2="510.75" y2="367.50" stroke="#555" stroke-width="0.42"/>
<line x1="504.40" y1="367.50" x2="510.75" y2="361.15" stroke="#555" stroke-width="0.42"/>
<line x1="504.40" y1="363.15" x2="510.75" y2="369.50" stroke="#555" stroke-width="0.42"/>
<line x1="504.40" y1="369.50" x2="510.75" y2="363.15" stroke="#555" stroke-width="0.42"/>
<line x1="504.40" y1="365.15" x2="510.75" y2="371.50" stroke="#555" stroke-width="0.42"/>
<line x1="504.40" y1="371.50" x2="510.75" y2="365.15" stroke="#555" stroke-width="0.42"/>
<line x1="504.40" y1="367.15" x2="510.75" y2="373.50" stroke="#555" stroke-width="0.42"/>
<line x1="504.40" y1="373.50" x2="510.75" y2="367.15" stroke="#555" stroke-width="0.42"/>
<line x1="504.40" y1="369.15" x2="510.75" y2="375.50" stroke="#555" stroke-width="0.42"/>
<line x1="504.40" y1="375.50" x2="510.75" y2="369.15" stroke="#555" stroke-width="0.42"/>
<line x1="504.40" y1="371.15" x2="510.75" y2="377.50" stroke="#555" stroke-width="0.42"/>
<line x1="504.40" y1="377.50" x2="510.75" y2="371.15" stroke="#555" stroke-width="0.42"/>
<line x1="504.40" y1="373.15" x2="510.75" y2="379.50" stroke="#555" stroke-width="0.42"/>
<line x1="504.40" y1="379.50" x2="510.75" y2="373.15" stroke="#555" stroke-width="0.42"/>
<line x1="504.40" y1="375.15" x2="510.75" y2="381.50" stroke="#555" stroke-width="0.42"/>
<line x1="504.40" y1="381.50" x2="510.75" y2="375.15" stroke="#555" stroke-width="0.42"/>
<line x1="504.40" y1="377.15" x2="510.75" y2="383.50" stroke="#555" stroke-width="0.42"/>
<line x1="504.40" y1="383.50" x2="510.75" y2="377.15" stroke="#555" stroke-width="0.42"/>
<line x1="504.40" y1="379.15" x2="510.75" y2="385.50" stroke="#555" stroke-width="0.42"/>
<line x1="504.40" y1="385.50" x2="510.75" y2="379.15" stroke="#555" stroke-width="0.42"/>
</g>
<line x1="480.50" y1="354.40" x2="480.50" y2="358.20" stroke="#636363" stroke-width="0.55"/>
<line x1="524.30" y1="342.46" x2="524.30" y2="380.00" stroke="#959595" stroke-width="0.52"/>
<line x1="526.50" y1="342.46" x2="526.50" y2="380.00" stroke="#959595" stroke-width="0.52"/>
<polyline points="523.25,397.73 523.25,380.10 558.50,380.10" fill="none" stroke="#636363" stroke-width="0.7"/>
<polyline points="526.30,397.72 526.30,382.50 557.20,382.50" fill="none" stroke="#959595" stroke-width="0.52"/>
<rect x="531.60" y="380.30" width="21.30" height="2.10" fill="#b5b5b5" stroke="#666" stroke-width="0.45"/>
<line x1="521.60" y1="389.40" x2="527.90" y2="389.40" stroke="#636363" stroke-width="0.5"/>
<line x1="558.50" y1="362.20" x2="558.50" y2="397.61" stroke="#959595" stroke-width="0.52"/>
<line x1="561.00" y1="362.20" x2="561.00" y2="397.61" stroke="#959595" stroke-width="0.52"/>
<line x1="556.40" y1="371.25" x2="561.80" y2="371.25" stroke="#636363" stroke-width="0.5"/>
<line x1="556.00" y1="389.40" x2="560.00" y2="389.40" stroke="#636363" stroke-width="0.5"/>
<polyline points="558.60,342.38 558.60,362.20 589.90,362.20 589.90,342.31" fill="none" stroke="#555" stroke-width="0.65"/>
<polyline points="561.20,342.38 561.20,359.80 587.40,359.80 587.40,342.32" fill="none" stroke="#777" stroke-width="0.55"/>
<line x1="561.20" y1="343.20" x2="587.40" y2="359.80" stroke="#777" stroke-width="0.45"/>
<line x1="587.40" y1="343.20" x2="561.20" y2="359.80" stroke="#777" stroke-width="0.45"/>
<line x1="577.25" y1="358.75" x2="577.25" y2="366.90" stroke="#636363" stroke-width="0.55"/>
<line x1="626.90" y1="209.25" x2="626.90" y2="277.73" stroke="#232323" stroke-width="0.9"/>
<line x1="626.90" y1="282.53" x2="626.90" y2="357.50" stroke="#232323" stroke-width="0.9"/>
<line x1="626.90" y1="209.25" x2="693.40" y2="209.25" stroke="#232323" stroke-width="0.9"/>
<line x1="693.40" y1="209.25" x2="693.40" y2="402.28" stroke="#232323" stroke-width="0.9"/>
<line x1="631.90" y1="214.25" x2="631.90" y2="397.38" stroke="#232323" stroke-width="0.9"/>
<line x1="631.90" y1="214.25" x2="688.30" y2="214.25" stroke="#232323" stroke-width="0.9"/>
<line x1="688.30" y1="214.25" x2="688.30" y2="397.20" stroke="#232323" stroke-width="0.9"/>
<line x1="631.90" y1="397.38" x2="688.30" y2="397.20" stroke="#232323" stroke-width="0.9"/>
<line x1="631.90" y1="402.48" x2="693.40" y2="402.28" stroke="#232323" stroke-width="0.9"/>
<rect x="627.10" y="224.20" width="4.50" height="13.30" fill="#ebebeb" stroke="#232323" stroke-width="0.7"/>
<line x1="629.35" y1="224.20" x2="629.35" y2="237.50" stroke="#555" stroke-width="0.6"/>
<line x1="626.90" y1="357.50" x2="631.90" y2="357.50" stroke="#232323" stroke-width="0.7"/>
<line x1="625.00" y1="347.90" x2="633.70" y2="347.90" stroke="#636363" stroke-width="0.5"/>
<line x1="627.25" y1="357.50" x2="627.25" y2="397.39" stroke="#232323" stroke-width="0.9"/>
<line x1="693.40" y1="343.20" x2="708.30" y2="343.20" stroke="#959595" stroke-width="0.55"/>
<line x1="693.4" y1="392.8" x2="708.3" y2="392.8" stroke="#959595" stroke-width="0.55" stroke-dasharray="2 1"/>
<rect x="708.40" y="343.20" width="4.50" height="53.05" fill="none" stroke="#232323" stroke-width="0.9"/>
<line x1="694.20" y1="356.90" x2="708.00" y2="356.90" stroke="#959595" stroke-width="0.5"/>
<line x1="694.20" y1="359.71" x2="708.00" y2="359.71" stroke="#959595" stroke-width="0.5"/>
<line x1="694.20" y1="362.52" x2="708.00" y2="362.52" stroke="#959595" stroke-width="0.5"/>
<line x1="694.20" y1="365.33" x2="708.00" y2="365.33" stroke="#959595" stroke-width="0.5"/>
<line x1="694.20" y1="368.14" x2="708.00" y2="368.14" stroke="#959595" stroke-width="0.5"/>
<line x1="694.20" y1="370.95" x2="708.00" y2="370.95" stroke="#959595" stroke-width="0.5"/>
<line x1="694.20" y1="373.76" x2="708.00" y2="373.76" stroke="#959595" stroke-width="0.5"/>
<line x1="694.20" y1="376.57" x2="708.00" y2="376.57" stroke="#959595" stroke-width="0.5"/>
<line x1="694.20" y1="379.38" x2="708.00" y2="379.38" stroke="#959595" stroke-width="0.5"/>
<line x1="694.20" y1="382.19" x2="708.00" y2="382.19" stroke="#959595" stroke-width="0.5"/>
<line x1="694.20" y1="385.00" x2="708.00" y2="385.00" stroke="#959595" stroke-width="0.5"/>
<line x1="696.60" y1="356.90" x2="696.60" y2="382.00" stroke="#636363" stroke-width="0.5"/>
<line x1="700.80" y1="357.50" x2="700.80" y2="385.00" stroke="#636363" stroke-width="0.5"/>
<line x1="706" y1="365" x2="706" y2="379" stroke="#636363" stroke-width="0.45" stroke-dasharray="1.5 1"/>
<polyline points="698.80,360.00 700.60,363.50 697.20,369.00 699.60,373.50 696.80,379.00 699.00,382.00" fill="none" stroke="#636363" stroke-width="0.45"/>
<line x1="703.50" y1="362.00" x2="702.20" y2="368.00" stroke="#636363" stroke-width="0.45"/>
<line x1="705.00" y1="368.00" x2="704.60" y2="371.00" stroke="#636363" stroke-width="0.45"/>
<line x1="554.25" y1="402.73" x2="554.25" y2="434.20" stroke="#232323" stroke-width="0.9"/>
<line x1="559.00" y1="402.71" x2="559.00" y2="434.20" stroke="#232323" stroke-width="0.9"/>
<line x1="627.25" y1="402.49" x2="627.25" y2="434.40" stroke="#232323" stroke-width="0.9"/>
<line x1="631.90" y1="402.48" x2="631.90" y2="434.40" stroke="#232323" stroke-width="0.9"/>
<polyline points="554.25,434.20 547.75,434.20 547.75,439.60 637.25,439.30 637.25,434.40 631.90,434.40" fill="none" stroke="#232323" stroke-width="0.85"/>
<line x1="559.00" y1="434.20" x2="627.25" y2="434.40" stroke="#232323" stroke-width="0.9"/>
<rect x="554.40" y="408.40" width="4.40" height="22.00" fill="#d6d6d6" stroke="#232323" stroke-width="0.7"/>
<line x1="556.60" y1="408.40" x2="556.60" y2="430.40" stroke="#555" stroke-width="0.6"/>
<rect x="627.25" y="408.75" width="4.65" height="20.00" fill="#d6d6d6" stroke="#232323" stroke-width="0.7"/>
<line x1="629.58" y1="408.75" x2="629.58" y2="428.75" stroke="#555" stroke-width="0.6"/>
<polyline points="586.90,434.00 586.90,418.00 611.00,418.00 589.40,433.60" fill="none" stroke="#444" stroke-width="0.6"/>
<line x1="589.45" y1="418.00" x2="589.45" y2="433.56" stroke="#555" stroke-width="0.5"/>
<line x1="592.00" y1="418.00" x2="592.00" y2="431.72" stroke="#555" stroke-width="0.5"/>
<line x1="594.55" y1="418.00" x2="594.55" y2="429.88" stroke="#555" stroke-width="0.5"/>
<line x1="597.10" y1="418.00" x2="597.10" y2="428.04" stroke="#555" stroke-width="0.5"/>
<line x1="599.65" y1="418.00" x2="599.65" y2="426.20" stroke="#555" stroke-width="0.5"/>
<line x1="602.20" y1="418.00" x2="602.20" y2="424.36" stroke="#555" stroke-width="0.5"/>
<line x1="604.75" y1="418.00" x2="604.75" y2="422.51" stroke="#555" stroke-width="0.5"/>
<line x1="607.30" y1="418.00" x2="607.30" y2="420.67" stroke="#555" stroke-width="0.5"/>
<line x1="592.00" y1="424.50" x2="598.00" y2="424.50" stroke="#636363" stroke-width="0.5"/>
<polyline points="524.60,402.82 524.60,418.50 554.25,418.50" fill="none" stroke="#858585" stroke-width="0.5"/>
<line x1="541.75" y1="410.50" x2="541.75" y2="421.50" stroke="#636363" stroke-width="0.5"/>
<line x1="540.60" y1="413.00" x2="541.75" y2="410.50" stroke="#636363" stroke-width="0.5"/>
<line x1="542.90" y1="413.00" x2="541.75" y2="410.50" stroke="#636363" stroke-width="0.5"/>
</g>
<g id="labels">
<text x="69.30" y="262.90" text-anchor="middle" font-size="5.3" fill="#222" >4.30</text>
<text x="75.60" y="275.00" text-anchor="middle" font-size="5.3" fill="#222" >3.12</text>
<text transform="translate(101.60,271.00) rotate(-90)" text-anchor="middle" font-size="5.3" fill="#222" >1.66</text>
<text transform="translate(90.80,280.50) rotate(-90)" text-anchor="middle" font-size="5.3" fill="#222" >5.12</text>
<text x="75.50" y="290.45" text-anchor="middle" font-size="5.3" fill="#222" >134</text>
<text x="75.50" y="295.05" text-anchor="middle" font-size="5.3" fill="#222" >18.0</text>
<line x1="71.88" y1="291.15" x2="79.12" y2="291.15" stroke="#222" stroke-width="0.6"/>
<text transform="translate(103.40,308.00) rotate(-90)" text-anchor="middle" font-size="5.3" fill="#222" >5.66</text>
<text x="189.00" y="290.00" text-anchor="middle" font-size="5.3" fill="#222" >17.33</text>
<text x="182.50" y="310.05" text-anchor="middle" font-size="5.3" fill="#222" >111</text>
<text x="182.50" y="314.65" text-anchor="middle" font-size="5.3" fill="#222" >98.4</text>
<line x1="178.88" y1="310.75" x2="186.12" y2="310.75" stroke="#222" stroke-width="0.6"/>
<text x="163.00" y="331.75" text-anchor="middle" font-size="5.3" fill="#222" >h=4.80</text>
<text transform="translate(53.00,331.75) rotate(-90)" text-anchor="middle" font-size="5.3" fill="#222" >14.10</text>
<text x="64.25" y="334.70" text-anchor="middle" font-size="5.3" fill="#222" >113</text>
<text x="64.25" y="339.30" text-anchor="middle" font-size="5.3" fill="#222" >2.6</text>
<line x1="60.62" y1="335.40" x2="67.88" y2="335.40" stroke="#222" stroke-width="0.6"/>
<text x="64.00" y="353.40" text-anchor="middle" font-size="5.3" fill="#222" >112</text>
<text x="64.00" y="358.00" text-anchor="middle" font-size="5.3" fill="#222" >2.5</text>
<line x1="60.38" y1="354.10" x2="67.62" y2="354.10" stroke="#222" stroke-width="0.6"/>
<text x="119.50" y="364.10" text-anchor="middle" font-size="5.3" fill="#222" >4.63</text>
<text x="177.00" y="364.10" text-anchor="middle" font-size="5.3" fill="#222" >7.98</text>
<text transform="translate(64.20,381.75) rotate(-90)" text-anchor="middle" font-size="5.3" fill="#222" >3.40</text>
<text x="73.30" y="379.75" text-anchor="middle" font-size="5.3" fill="#222" >114</text>
<text x="73.30" y="384.35" text-anchor="middle" font-size="5.3" fill="#222" >12.8</text>
<line x1="69.67" y1="380.45" x2="76.92" y2="380.45" stroke="#222" stroke-width="0.6"/>
<text x="73.75" y="397.50" text-anchor="middle" font-size="5.3" fill="#222" >3.28</text>
<text transform="translate(104.20,381.25) rotate(-90)" text-anchor="middle" font-size="5.3" fill="#222" >3.88</text>
<text x="120.30" y="375.45" text-anchor="middle" font-size="5.3" fill="#222" >115</text>
<text x="120.30" y="380.05" text-anchor="middle" font-size="5.3" fill="#222" >18.0</text>
<line x1="116.67" y1="376.15" x2="123.92" y2="376.15" stroke="#222" stroke-width="0.6"/>
<text x="171.25" y="380.85" text-anchor="middle" font-size="5.3" fill="#222" >116</text>
<text x="171.25" y="385.45" text-anchor="middle" font-size="5.3" fill="#222" >25.8</text>
<line x1="167.62" y1="381.55" x2="174.88" y2="381.55" stroke="#222" stroke-width="0.6"/>
<text transform="translate(204.20,387.00) rotate(-90)" text-anchor="middle" font-size="5.3" fill="#222" >2.50</text>
<text x="212.20" y="385.85" text-anchor="middle" font-size="5.3" fill="#222" >117</text>
<text x="212.20" y="390.45" text-anchor="middle" font-size="5.3" fill="#222" >2.5</text>
<line x1="208.57" y1="386.55" x2="215.82" y2="386.55" stroke="#222" stroke-width="0.6"/>
<text transform="translate(225.40,379.50) rotate(-90)" text-anchor="middle" font-size="5.3" fill="#222" >3.88</text>
<text x="298.50" y="290.00" text-anchor="middle" font-size="5.3" fill="#222" >5.56</text>
<text transform="translate(274.70,305.50) rotate(-90)" text-anchor="middle" font-size="5.3" fill="#222" >3.90</text>
<text x="301.50" y="306.80" text-anchor="middle" font-size="5.3" fill="#222" >110</text>
<text x="301.50" y="311.40" text-anchor="middle" font-size="5.3" fill="#222" >22.3</text>
<line x1="297.88" y1="307.50" x2="305.12" y2="307.50" stroke="#222" stroke-width="0.6"/>
<text x="275.60" y="330.30" text-anchor="middle" font-size="5.3" fill="#222" >3.60</text>
<text x="316.25" y="329.70" text-anchor="middle" font-size="5.3" fill="#222" >133</text>
<text x="316.25" y="334.30" text-anchor="middle" font-size="5.3" fill="#222" >8.5</text>
<line x1="312.62" y1="330.40" x2="319.88" y2="330.40" stroke="#222" stroke-width="0.6"/>
<text transform="translate(336.40,312.50) rotate(-90)" text-anchor="middle" font-size="5.3" fill="#222" >3.58</text>
<text x="385.50" y="288.75" text-anchor="middle" font-size="5.3" fill="#222" >10.17</text>
<text x="386.75" y="308.60" text-anchor="middle" font-size="5.3" fill="#222" >108</text>
<text x="386.75" y="313.20" text-anchor="middle" font-size="5.3" fill="#222" >57.6</text>
<line x1="383.12" y1="309.30" x2="390.38" y2="309.30" stroke="#222" stroke-width="0.6"/>
<text x="253.00" y="347.60" text-anchor="middle" font-size="5.3" fill="#222" >3.60</text>
<text x="317.10" y="349.20" text-anchor="middle" font-size="5.3" fill="#222" >112</text>
<text x="317.10" y="353.80" text-anchor="middle" font-size="5.3" fill="#222" >77.8</text>
<line x1="313.48" y1="349.90" x2="320.73" y2="349.90" stroke="#222" stroke-width="0.6"/>
<text x="397.50" y="347.60" text-anchor="middle" font-size="5.3" fill="#222" >9.98</text>
<text x="246.60" y="363.80" text-anchor="middle" font-size="5.3" fill="#222" >8.20</text>
<text x="271.70" y="409.40" text-anchor="middle" font-size="5.3" fill="#222" >65.20</text>
<text x="241.70" y="376.90" text-anchor="middle" font-size="5.3" fill="#222" >118</text>
<text x="241.70" y="381.50" text-anchor="middle" font-size="5.3" fill="#222" >20.5</text>
<line x1="238.07" y1="377.60" x2="245.32" y2="377.60" stroke="#222" stroke-width="0.6"/>
<text transform="translate(255.40,387.20) rotate(-90)" text-anchor="middle" font-size="5.3" fill="#222" >2.40</text>
<text transform="translate(262.70,387.20) rotate(-90)" text-anchor="middle" font-size="5.3" fill="#222" >2.30</text>
<text x="283.30" y="386.00" text-anchor="middle" font-size="5.3" fill="#222" >130</text>
<text x="283.30" y="390.60" text-anchor="middle" font-size="5.3" fill="#222" >10.6</text>
<line x1="279.68" y1="386.70" x2="286.93" y2="386.70" stroke="#222" stroke-width="0.6"/>
<text x="293.50" y="380.50" text-anchor="middle" font-size="5.3" fill="#222" >4.60</text>
<text x="316.30" y="391.15" text-anchor="middle" font-size="5.3" fill="#222" >119</text>
<text x="316.30" y="395.75" text-anchor="middle" font-size="5.3" fill="#222" >2.9</text>
<line x1="312.68" y1="391.85" x2="319.93" y2="391.85" stroke="#222" stroke-width="0.6"/>
<text transform="translate(336.00,388.75) rotate(-90)" text-anchor="middle" font-size="5.3" fill="#222" >1.96</text>
<text x="360.00" y="387.05" text-anchor="middle" font-size="5.3" fill="#222" >121</text>
<text x="360.00" y="391.65" text-anchor="middle" font-size="5.3" fill="#222" >11.4</text>
<line x1="356.38" y1="387.75" x2="363.62" y2="387.75" stroke="#222" stroke-width="0.6"/>
<text x="381.00" y="397.00" text-anchor="middle" font-size="5.3" fill="#222" >5.80</text>
<text transform="translate(394.00,388.00) rotate(-90)" text-anchor="middle" font-size="5.3" fill="#222" >1.96</text>
<text x="338.75" y="360.45" text-anchor="middle" font-size="5.3" fill="#222" >131</text>
<text x="338.75" y="365.05" text-anchor="middle" font-size="5.3" fill="#222" >1.3</text>
<line x1="335.12" y1="361.15" x2="342.38" y2="361.15" stroke="#222" stroke-width="0.6"/>
<text x="354.75" y="371.05" text-anchor="middle" font-size="5.3" fill="#222" >120</text>
<text x="354.75" y="375.65" text-anchor="middle" font-size="5.3" fill="#222" >8.5</text>
<line x1="351.12" y1="371.75" x2="358.38" y2="371.75" stroke="#222" stroke-width="0.6"/>
<text x="376.75" y="371.05" text-anchor="middle" font-size="5.3" fill="#222" >122</text>
<text x="376.75" y="375.65" text-anchor="middle" font-size="5.3" fill="#222" >1.8</text>
<line x1="373.12" y1="371.75" x2="380.38" y2="371.75" stroke="#222" stroke-width="0.6"/>
<text x="399.25" y="371.05" text-anchor="middle" font-size="5.3" fill="#222" >123</text>
<text x="399.25" y="375.65" text-anchor="middle" font-size="5.3" fill="#222" >4.6</text>
<line x1="395.62" y1="371.75" x2="402.88" y2="371.75" stroke="#222" stroke-width="0.6"/>
<text x="421.50" y="371.05" text-anchor="middle" font-size="5.3" fill="#222" >124</text>
<text x="421.50" y="375.65" text-anchor="middle" font-size="5.3" fill="#222" >1.8</text>
<line x1="417.88" y1="371.75" x2="425.12" y2="371.75" stroke="#222" stroke-width="0.6"/>
<text x="436.00" y="371.05" text-anchor="middle" font-size="5.3" fill="#222" >125</text>
<text x="436.00" y="375.65" text-anchor="middle" font-size="5.3" fill="#222" >1.8</text>
<line x1="432.38" y1="371.75" x2="439.62" y2="371.75" stroke="#222" stroke-width="0.6"/>
<text x="457.25" y="371.05" text-anchor="middle" font-size="5.3" fill="#222" >126</text>
<text x="457.25" y="375.65" text-anchor="middle" font-size="5.3" fill="#222" >8.5</text>
<line x1="453.62" y1="371.75" x2="460.88" y2="371.75" stroke="#222" stroke-width="0.6"/>
<text x="433.00" y="387.45" text-anchor="middle" font-size="5.3" fill="#222" >127</text>
<text x="433.00" y="392.05" text-anchor="middle" font-size="5.3" fill="#222" >16.4</text>
<line x1="429.38" y1="388.15" x2="436.62" y2="388.15" stroke="#222" stroke-width="0.6"/>
<text x="449.25" y="396.25" text-anchor="middle" font-size="5.3" fill="#222" >8.36</text>
<text x="485.50" y="377.65" text-anchor="middle" font-size="5.3" fill="#222" >128</text>
<text x="485.50" y="382.25" text-anchor="middle" font-size="5.3" fill="#222" >11.9</text>
<line x1="481.88" y1="378.35" x2="489.12" y2="378.35" stroke="#222" stroke-width="0.6"/>
<text x="484.00" y="396.25" text-anchor="middle" font-size="5.3" fill="#222" >3.00</text>
<text x="473.00" y="297.50" text-anchor="middle" font-size="5.3" fill="#222" >11.20</text>
<text x="469.75" y="308.80" text-anchor="middle" font-size="5.3" fill="#222" >109</text>
<text x="469.75" y="313.40" text-anchor="middle" font-size="5.3" fill="#222" >40.8</text>
<line x1="466.12" y1="309.50" x2="473.38" y2="309.50" stroke="#222" stroke-width="0.6"/>
<text transform="translate(438.20,316.25) rotate(-90)" text-anchor="middle" font-size="5.3" fill="#222" >3.58</text>
<text x="478.50" y="331.25" text-anchor="middle" font-size="5.3" fill="#222" >h=3.30</text>
<text x="526.00" y="310.20" text-anchor="middle" font-size="5.3" fill="#222" >107</text>
<text x="526.00" y="314.80" text-anchor="middle" font-size="5.3" fill="#222" >22.0</text>
<line x1="522.38" y1="310.90" x2="529.62" y2="310.90" stroke="#222" stroke-width="0.6"/>
<text x="565.50" y="290.00" text-anchor="middle" font-size="5.3" fill="#222" >4.78</text>
<text x="567.75" y="300.65" text-anchor="middle" font-size="5.3" fill="#222" >105</text>
<text x="567.75" y="305.25" text-anchor="middle" font-size="5.3" fill="#222" >18.5</text>
<line x1="564.12" y1="301.35" x2="571.38" y2="301.35" stroke="#222" stroke-width="0.6"/>
<text transform="translate(586.80,307.00) rotate(-90)" text-anchor="middle" font-size="5.3" fill="#222" >3.88</text>
<text x="563.50" y="328.70" text-anchor="middle" font-size="5.3" fill="#222" >106</text>
<text x="563.50" y="333.30" text-anchor="middle" font-size="5.3" fill="#222" >7.6</text>
<line x1="559.88" y1="329.40" x2="567.12" y2="329.40" stroke="#222" stroke-width="0.6"/>
<text x="574.75" y="336.25" text-anchor="middle" font-size="5.3" fill="#222" >4.78</text>
<text x="603.70" y="309.45" text-anchor="middle" font-size="5.3" fill="#222" >104</text>
<text x="603.70" y="314.05" text-anchor="middle" font-size="5.3" fill="#222" >17.6</text>
<line x1="600.08" y1="310.15" x2="607.33" y2="310.15" stroke="#222" stroke-width="0.6"/>
<text transform="translate(619.10,312.70) rotate(-90)" text-anchor="middle" font-size="5.3" fill="#222" >5.66</text>
<text x="606.00" y="290.00" text-anchor="middle" font-size="5.3" fill="#222" >3.11</text>
<text x="575.00" y="351.00" text-anchor="middle" font-size="5.3" fill="#222" >136</text>
<text x="575.00" y="355.60" text-anchor="middle" font-size="5.3" fill="#222" >4.9</text>
<line x1="571.38" y1="351.70" x2="578.62" y2="351.70" stroke="#222" stroke-width="0.6"/>
<text x="570.00" y="367.50" text-anchor="middle" font-size="5.3" fill="#222" >3.20</text>
<text x="544.10" y="360.55" text-anchor="middle" font-size="5.3" fill="#222" >129</text>
<text x="544.10" y="365.15" text-anchor="middle" font-size="5.3" fill="#222" >7.6</text>
<line x1="540.48" y1="361.25" x2="547.73" y2="361.25" stroke="#222" stroke-width="0.6"/>
<text x="543.90" y="378.80" text-anchor="middle" font-size="5.3" fill="#222" >2.43</text>
<text x="552.90" y="388.10" text-anchor="middle" font-size="5.3" fill="#222" >2.96</text>
<text x="540.75" y="390.30" text-anchor="middle" font-size="5.3" fill="#222" >101</text>
<text x="540.75" y="394.90" text-anchor="middle" font-size="5.3" fill="#222" >5.3</text>
<line x1="537.12" y1="391.00" x2="544.38" y2="391.00" stroke="#222" stroke-width="0.6"/>
<text x="597.30" y="377.00" text-anchor="middle" font-size="5.3" fill="#222" >102</text>
<text x="597.30" y="381.60" text-anchor="middle" font-size="5.3" fill="#222" >22.4</text>
<line x1="593.67" y1="377.70" x2="600.92" y2="377.70" stroke="#222" stroke-width="0.6"/>
<text x="593.60" y="396.10" text-anchor="middle" font-size="5.3" fill="#222" >6.60</text>
<text x="612.50" y="347.20" text-anchor="middle" font-size="5.3" fill="#222" >3.80</text>
<text transform="translate(623.50,370.50) rotate(-90)" text-anchor="middle" font-size="5.3" fill="#222" >5.40</text>
<text transform="translate(522.20,409.50) rotate(-90)" text-anchor="middle" font-size="5.3" fill="#222" >1.60</text>
<text x="534.20" y="423.20" text-anchor="middle" font-size="5.3" fill="#222" >3.00</text>
<text x="574.40" y="418.90" text-anchor="middle" font-size="5.3" fill="#222" >135</text>
<text x="574.40" y="423.50" text-anchor="middle" font-size="5.3" fill="#222" >21.4</text>
<line x1="570.77" y1="419.60" x2="578.02" y2="419.60" stroke="#222" stroke-width="0.6"/>
<text x="591.00" y="444.50" text-anchor="middle" font-size="5.3" fill="#222" >9.20</text>
<text transform="translate(625.50,418.75) rotate(-90)" text-anchor="middle" font-size="5.3" fill="#222" >3.10</text>
<text transform="translate(641.80,420.00) rotate(-90)" text-anchor="middle" font-size="5.3" fill="#222" >3.10</text>
<text x="617.60" y="428.70" text-anchor="middle" font-size="5.3" fill="#222" >6.90</text>
<text x="659.25" y="207.50" text-anchor="middle" font-size="5.3" fill="#222" >6.80</text>
<text x="660.00" y="219.25" text-anchor="middle" font-size="5.3" fill="#222" >5.68</text>
<text transform="translate(624.20,248.75) rotate(-90)" text-anchor="middle" font-size="5.3" fill="#222" >6.93</text>
<text x="663.30" y="300.90" text-anchor="middle" font-size="5.3" fill="#222" >103</text>
<text x="663.30" y="305.50" text-anchor="middle" font-size="5.3" fill="#222" >104.1</text>
<line x1="659.67" y1="301.60" x2="666.92" y2="301.60" stroke="#222" stroke-width="0.6"/>
<text transform="translate(698.50,299.40) rotate(-90)" text-anchor="middle" font-size="5.3" fill="#222" >19.30</text>
<text transform="translate(684.00,308.00) rotate(-90)" text-anchor="middle" font-size="5.3" fill="#222" >8.27</text>
<text transform="translate(719.00,370.00) rotate(-90)" text-anchor="middle" font-size="5.3" fill="#222" >5.20</text>
<text x="701.75" y="400.75" text-anchor="middle" font-size="5.3" fill="#222" >2.00</text>
</g>
<g id="stamp">
<defs>
<linearGradient id="fade" x1="0" y1="0.8" x2="1" y2="0.2"><stop offset="0" stop-color="#fff" stop-opacity="0.22"/><stop offset="0.42" stop-color="#fff" stop-opacity="0.55"/><stop offset="1" stop-color="#fff" stop-opacity="1"/></linearGradient>
<mask id="fm" maskUnits="userSpaceOnUse" x="660" y="420" width="91" height="60"><rect x="660" y="420" width="91" height="60" fill="url(#fade)"/></mask>
<filter id="spk" x="-5%" y="-5%" width="110%" height="110%"><feTurbulence type="fractalNoise" baseFrequency="0.45" numOctaves="2" seed="7" result="n"/><feColorMatrix in="n" type="matrix" values="0 0 0 0 0  0 0 0 0 0  0 0 0 0 0  0 0 0 6 -1.5" result="m"/><feComposite in="SourceGraphic" in2="m" operator="in"/></filter>
<path id="arc1" d="M678.0,464.6 A28.4,28.4 0 1 1 734.8,464.6"/><path id="arc2" d="M684.1999999999999,464.6 A22.2,22.2 0 1 1 728.6,464.6"/><path id="arc3" d="M689.1,464.6 A17.3,17.3 0 0 1 723.6999999999999,464.6"/></defs>
<g mask="url(#fm)"><g filter="url(#spk)">
<g fill="none" stroke="#979797">
<circle cx="706.4" cy="464.6" r="34.0" stroke-width="0.9"/>
<circle cx="706.4" cy="464.6" r="32.5" stroke-width="0.55"/>
<circle cx="706.4" cy="464.6" r="27.0" stroke-width="0.7"/>
<circle cx="706.4" cy="464.6" r="25.6" stroke-width="0.55"/>
<circle cx="706.4" cy="464.6" r="21.4" stroke-width="0.55"/>
<circle cx="706.4" cy="464.6" r="20.3" stroke-width="0.6"/>
</g>
<text font-size="4.5" fill="#9c9c9c" letter-spacing="0.25"><textPath href="#arc1" startOffset="1%">УКРАЇНА * КП ДНІПРОПЕТРОВСЬКЕ МІЖМІСЬКЕ БЮРО ТЕХНІЧНОЇ ІНВЕНТАРИЗАЦІЇ</textPath></text>
<text font-size="3.9" fill="#9c9c9c" letter-spacing="0.25"><textPath href="#arc2" startOffset="4%">ДНІПРОПЕТРОВСЬКОЇ ОБЛАСНОЇ РАДИ * ІДЕНТИФІКАЦІЙНИЙ КОД</textPath></text>
</g></g>
<text font-size="3.8" fill="#858585" letter-spacing="1.15" text-anchor="middle"><textPath href="#arc3" startOffset="50%">УКРАЇНА</textPath></text>
<text x="703.20" y="456.00" text-anchor="middle" font-size="5.0" fill="#868686" stroke="#909090" stroke-width="0.15" textLength="21.3" lengthAdjust="spacingAndGlyphs">Інженер з</text>
<text x="703.00" y="461.60" text-anchor="middle" font-size="5.0" fill="#8e8e8e" stroke="#999" stroke-width="0.15" textLength="32" lengthAdjust="spacingAndGlyphs">інвентаризації</text>
<text x="702.30" y="466.60" text-anchor="middle" font-size="5.0" fill="#8a8a8a" stroke="#999" stroke-width="0.15" textLength="40.6" lengthAdjust="spacingAndGlyphs">нерухомого майна</text>
<text x="703.00" y="476.60" text-anchor="middle" font-size="5.4" fill="#7c7c7c" font-weight="bold" textLength="30.6" lengthAdjust="spacingAndGlyphs">Распорядний</text>
<line x1="687.50" y1="477.60" x2="718.50" y2="477.60" stroke="#a0a0a0" stroke-width="0.5"/>
<text x="703.00" y="482.30" text-anchor="middle" font-size="4.6" fill="#b0b0b0" >№ 1 1 1 1</text>
</g>
</svg>
</body></html>
